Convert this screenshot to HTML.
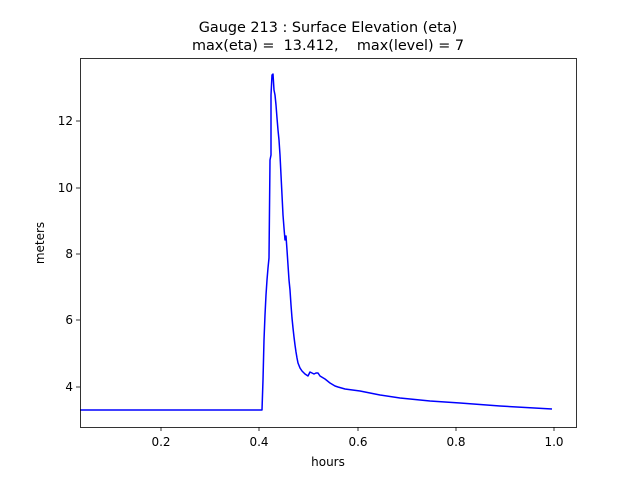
<!DOCTYPE html>
<html><head><style>body{margin:0;background:#fff}svg text{font-family:"DejaVu Sans","Liberation Sans",sans-serif;fill:#000}</style></head>
<body>
<svg width="640" height="480" xmlns="http://www.w3.org/2000/svg">
<rect width="640" height="480" fill="#fff"/>
<text x="328" y="32" font-size="14.4" text-anchor="middle">Gauge 213 : Surface Elevation (eta)</text>
<text x="328" y="50" font-size="14.4" text-anchor="middle" xml:space="preserve">max(eta) =  13.412,    max(level) = 7</text>
<path d="M80,410 L262,410 L263,380 L264,340 L265,315 L266,295 L267,280 L268,268 L269,258 L270,160 L271,155 L271,95 L272,75 L273,74 L274,90 L275,95 L276,105 L277,118 L278,130 L279,140 L280,155 L281,175 L282,195 L283,215 L284,228 L285,240 L286,236 L287,250 L288,265 L289,280 L290,290 L291,305 L292,318 L293,328 L294,337 L295,345 L296,352 L297,358 L298,363 L300,368 L302,371 L305,374 L308,376 L310,372 L312,373 L314,374 L316,373 L318,373 L320,376 L325,379 L330,383 L335,386 L338,387 L345,389 L360,391 L380,395 L400,398 L430,401 L460,403 L500,406 L552,409" fill="none" stroke="#0000ff" stroke-width="1.5" stroke-linejoin="round"/>
<rect x="80.5" y="58.5" width="496" height="369" fill="none" stroke="#000" stroke-width="0.8"/>
<g stroke="#000" stroke-width="0.8">
<line x1="161" y1="427" x2="161" y2="431"/><line x1="259" y1="427" x2="259" y2="431"/><line x1="358" y1="427" x2="358" y2="431"/><line x1="456" y1="427" x2="456" y2="431"/><line x1="554" y1="427" x2="554" y2="431"/>
<line x1="76" y1="387" x2="80" y2="387"/><line x1="76" y1="320" x2="80" y2="320"/><line x1="76" y1="254" x2="80" y2="254"/><line x1="76" y1="188" x2="80" y2="188"/><line x1="76" y1="121" x2="80" y2="121"/>
</g>
<g font-size="12" text-anchor="middle">
<text x="161" y="446">0.2</text><text x="259" y="446">0.4</text><text x="358" y="446">0.6</text><text x="456" y="446">0.8</text><text x="554" y="446">1.0</text>
<text x="328" y="466">hours</text>
</g>
<g font-size="12" text-anchor="end">
<text x="73" y="391">4</text><text x="73" y="324">6</text><text x="73" y="258">8</text><text x="73" y="192">10</text><text x="73" y="125">12</text>
</g>
<text font-size="12" text-anchor="middle" transform="translate(44,243) rotate(-90)">meters</text>
</svg>
</body></html>
